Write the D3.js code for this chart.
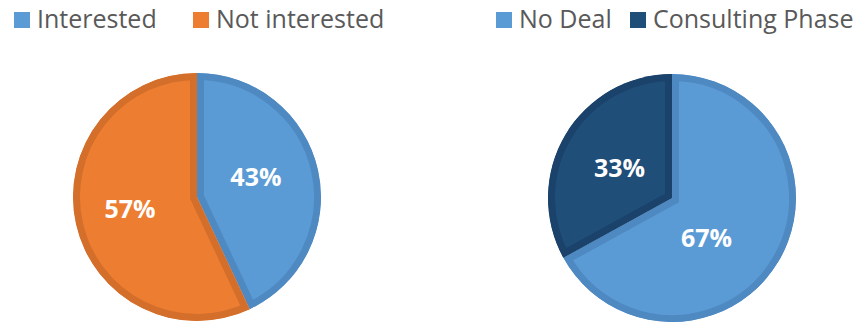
<!DOCTYPE html>
<html>
<head>
<meta charset="utf-8">
<script src="https://cdn.jsdelivr.net/npm/d3@7"></script>
<style>
  html, body { margin: 0; padding: 0; background: #ffffff; }
  svg { display: block; }
</style>
</head>
<body>
<svg id="chart" width="859" height="324"></svg>
<script>
// Interest survey
const interestLabels = ["Interested", "Not interested"];
const interestValues = [43, 57];
const interestColors = ["#5B9BD5", "#ED7D31"];
const interestBorders = ["#4E89C2", "#D36F2A"];

// Deal status
const dealLabels = ["No Deal", "Consulting Phase"];
const dealValues = [67, 33];
const dealColors = ["#5B9BD5", "#1F4E79"];
const dealBorders = ["#4E89C2", "#1A426A"];

const svg = d3.select("#chart");
const defs = svg.append("defs");
const BORDER = 7;

function drawPie(opts) {
  const { id, cx, cy, r, labels, values, colors, borders, legendX, labelNudge } = opts;
  const pie = d3.pie().sort(null).value(d => d)(values);
  const arc = d3.arc().innerRadius(0).outerRadius(r);
  const labelArc = d3.arc().innerRadius(0.52 * r).outerRadius(0.52 * r);
  const g = svg.append("g").attr("transform", `translate(${cx},${cy})`);

  // each slice clipped to itself so its border sits inside the slice
  pie.forEach((p, i) => {
    const clipId = `${id}-clip-${i}`;
    defs.append("clipPath").attr("id", clipId)
      .append("path").attr("d", arc(p));
    g.append("path")
      .attr("d", arc(p))
      .attr("fill", colors[i])
      .attr("stroke", borders[i])
      .attr("stroke-width", BORDER * 2)
      .attr("stroke-linejoin", "miter")
      .attr("clip-path", `url(#${clipId})`);
  });

  // percentage labels, placed near the slice centroid
  const total = d3.sum(values);
  pie.forEach((p, i) => {
    const [x, y] = labelArc.centroid(p);
    g.append("text")
      .attr("x", x + labelNudge[i][0]).attr("y", y + labelNudge[i][1])
      .attr("text-anchor", "middle")
      .attr("dominant-baseline", "central")
      .attr("font-family", "'Open Sans', sans-serif")
      .attr("font-weight", 700)
      .attr("font-size", 25)
      .attr("fill", "#ffffff")
      .text(d3.format(".0%")(p.value / total));
  });

  // legend row
  const lg = svg.append("g");
  legendX.forEach((lx, i) => {
    lg.append("rect")
      .attr("x", lx).attr("y", 12)
      .attr("width", 16).attr("height", 16)
      .attr("fill", colors[i]);
    lg.append("text")
      .attr("x", lx + 23).attr("y", 28)
      .attr("font-family", "'Open Sans', sans-serif")
      .attr("font-size", 25)
      .attr("fill", "#595959")
      .text(labels[i]);
  });
}

drawPie({
  id: "interest", cx: 197, cy: 197, r: 124,
  labels: interestLabels, values: interestValues,
  colors: interestColors, borders: interestBorders,
  legendX: [14, 193], labelNudge: [[-4, -7], [-4, -3]]
});
drawPie({
  id: "deal", cx: 672, cy: 198, r: 124,
  labels: dealLabels, values: dealValues,
  colors: dealColors, borders: dealBorders,
  legendX: [496, 630], labelNudge: [[-21, 6], [3, 2]]
});
</script>
</body>
</html>
